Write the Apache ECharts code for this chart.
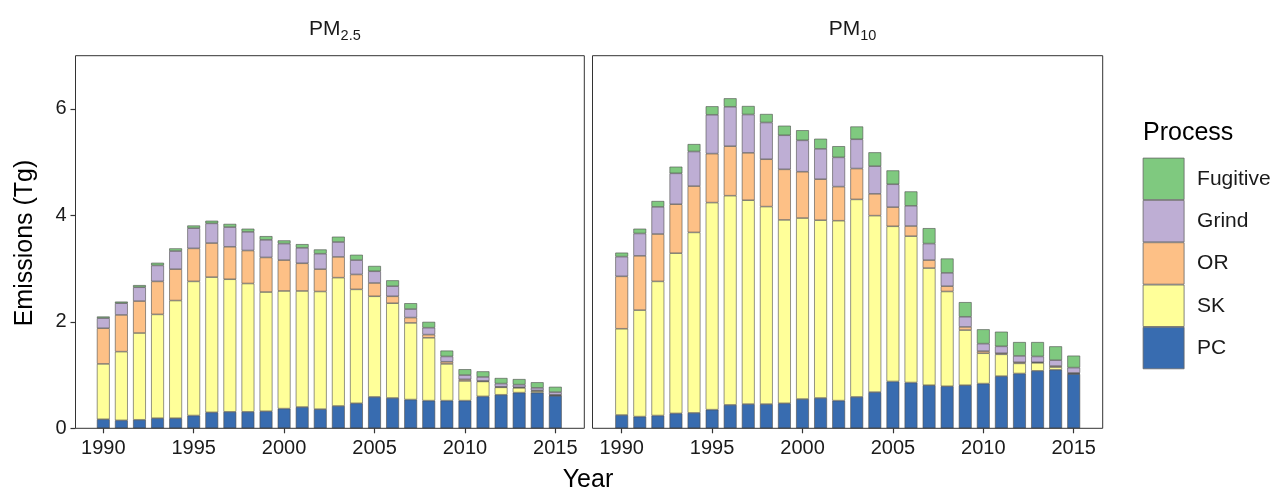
<!DOCTYPE html>
<html>
<head>
<meta charset="utf-8">
<script src="https://cdn.jsdelivr.net/npm/echarts@6/dist/echarts.min.js"></script>
<style>
html,body{margin:0;padding:0;background:#fff;}
#chart{width:1275px;height:492px;}
</style>
</head>
<body>
<div id="chart"></div>
<script>
// ---- data ----
const years = ['1990','1991','1992','1993','1994','1995','1996','1997','1998','1999','2000','2001','2002','2003','2004','2005','2006','2007','2008','2009','2010','2011','2012','2013','2014','2015'];
const processes = ['PC','SK','OR','Grind','Fugitive'];
const legendOrder = ['Fugitive','Grind','OR','SK','PC'];
const yTicks = [0, 2, 4, 6];
const panelTitles = ['2.5', '10'];

const pm25_PC       = [0.17,0.15,0.16,0.19,0.19,0.24,0.30,0.31,0.31,0.32,0.37,0.40,0.36,0.42,0.47,0.59,0.57,0.54,0.52,0.52,0.52,0.60,0.63,0.67,0.67,0.61];
const pm25_SK       = [1.04,1.29,1.63,1.95,2.21,2.52,2.54,2.49,2.41,2.24,2.21,2.18,2.21,2.41,2.14,1.89,1.78,1.44,1.18,0.69,0.37,0.28,0.14,0.09,0.03,0.01];
const pm25_OR       = [0.67,0.69,0.60,0.62,0.59,0.62,0.64,0.61,0.62,0.65,0.58,0.52,0.42,0.39,0.28,0.25,0.13,0.10,0.06,0.04,0.03,0.01,0.01,0.01,0.01,0.01];
const pm25_Grind    = [0.19,0.22,0.26,0.30,0.34,0.38,0.37,0.37,0.35,0.33,0.31,0.29,0.29,0.28,0.27,0.22,0.19,0.16,0.13,0.10,0.08,0.075,0.06,0.05,0.05,0.05];
const pm25_Fugitive = [0.03,0.03,0.04,0.05,0.05,0.05,0.05,0.06,0.06,0.07,0.06,0.07,0.08,0.10,0.10,0.10,0.11,0.11,0.11,0.11,0.11,0.105,0.105,0.105,0.105,0.10];

const pm10_PC       = [0.25,0.22,0.24,0.28,0.29,0.35,0.44,0.455,0.455,0.47,0.55,0.57,0.52,0.59,0.68,0.88,0.86,0.81,0.79,0.81,0.84,0.98,1.03,1.08,1.10,1.02];
const pm10_SK       = [1.62,2.00,2.52,3.01,3.39,3.89,3.93,3.83,3.71,3.445,3.40,3.34,3.38,3.71,3.315,2.915,2.75,2.20,1.78,1.035,0.57,0.41,0.19,0.15,0.05,0.01];
const pm10_OR       = [0.985,1.02,0.89,0.92,0.87,0.92,0.93,0.89,0.89,0.95,0.87,0.77,0.64,0.58,0.41,0.36,0.19,0.15,0.10,0.06,0.04,0.02,0.02,0.01,0.02,0.01];
const pm10_Grind    = [0.37,0.42,0.51,0.58,0.65,0.73,0.74,0.72,0.69,0.64,0.59,0.57,0.55,0.55,0.52,0.43,0.38,0.31,0.25,0.19,0.14,0.13,0.12,0.11,0.11,0.10];
const pm10_Fugitive = [0.075,0.09,0.11,0.125,0.14,0.16,0.16,0.16,0.16,0.18,0.19,0.19,0.21,0.24,0.26,0.26,0.27,0.29,0.27,0.275,0.27,0.275,0.26,0.27,0.26,0.225];

// ---- styles ----
const colors = {PC:'#386CB0', SK:'#FFFF99', OR:'#FDC086', Grind:'#BEAED4', Fugitive:'#7FC97F'};
const FONT = '"Liberation Sans", Arial, Helvetica, sans-serif';
const panels = [
  {data:{PC:pm25_PC, SK:pm25_SK, OR:pm25_OR, Grind:pm25_Grind, Fugitive:pm25_Fugitive}, box:[75.5, 584.3], gridLeft:94.26},
  {data:{PC:pm10_PC, SK:pm10_SK, OR:pm10_OR, Grind:pm10_Grind, Fugitive:pm10_Fugitive}, box:[592.5, 1102.7], gridLeft:612.66}
];
const TOP = 55.7, BOTTOM = 428.3, GRID_W = 470.1;

const grids = [], xAxes = [], yAxes = [], series = [], titles = [], graphics = [];
panels.forEach((p, i) => {
  grids.push({left:p.gridLeft, top:TOP, width:GRID_W, height:BOTTOM-TOP, containLabel:false});
  xAxes.push({
    type:'category', gridIndex:i, data:years, boundaryGap:true,
    axisLine:{show:false},
    axisTick:{show:true, interval:4, alignWithLabel:true, length:5, lineStyle:{color:'#333', width:1.2}},
    axisLabel:{interval:4, margin:10, fontSize:20, color:'#1a1a1a', fontFamily:FONT},
    splitLine:{show:false}
  });
  yAxes.push({
    type:'value', gridIndex:i, min:0, max:7, interval:2, offset:p.gridLeft - p.box[0],
    axisLine:{show:false},
    axisTick:{show:i===0, length:5, customValues:yTicks, lineStyle:{color:'#333', width:1.2}},
    axisLabel:{show:i===0, customValues:yTicks, margin:9, fontSize:20, color:'#1a1a1a', fontFamily:FONT},
    splitLine:{show:false}
  });
  processes.forEach(name => {
    series.push({
      name:name, type:'bar', xAxisIndex:i, yAxisIndex:i, stack:'s'+i,
      barWidth:12.8, data:p.data[name],
      itemStyle:{color:colors[name], borderColor:'#4d4d4d', borderWidth:0.6},
      emphasis:{disabled:true}, animation:false
    });
  });
  titles.push({
    text:'{a|PM}{b|' + panelTitles[i] + '}',
    left:(p.box[0]+p.box[1])/2, top:10, textAlign:'center',
    textStyle:{fontWeight:'normal', rich:{
      a:{fontSize:21, fontFamily:FONT, fontWeight:'normal', color:'#1a1a1a', lineHeight:28, verticalAlign:'middle'},
      b:{fontSize:14.5, fontFamily:FONT, fontWeight:'normal', color:'#1a1a1a', lineHeight:14, verticalAlign:'bottom'}
    }}
  });
  graphics.push({
    type:'rect', z:100, silent:true,
    shape:{x:p.box[0], y:TOP, width:p.box[1]-p.box[0], height:BOTTOM-TOP},
    style:{fill:'none', stroke:'#333', lineWidth:1}
  });
});

graphics.push({type:'text', silent:true, style:{text:'Year', x:588, y:480, align:'center', verticalAlign:'middle', fontSize:25, fontFamily:FONT, fill:'#000'}});
graphics.push({type:'text', silent:true, rotation:Math.PI/2, x:25, y:243, style:{text:'Emissions (Tg)', x:0, y:0, align:'center', verticalAlign:'middle', fontSize:25, fontFamily:FONT, fill:'#000'}});
graphics.push({type:'text', silent:true, style:{text:'Process', x:1143, y:133, align:'left', verticalAlign:'middle', fontSize:25, fontFamily:FONT, fill:'#000'}});

const chart = echarts.init(document.getElementById('chart'), null, {renderer:'canvas'});
chart.setOption({
  backgroundColor:'#fff',
  animation:false,
  title:titles,
  grid:grids, xAxis:xAxes, yAxis:yAxes, series:series,
  legend:{
    data:legendOrder, orient:'vertical', left:1142.7, top:157.7, padding:0,
    itemWidth:41, itemHeight:41.5, itemGap:0, icon:'rect',
    selectedMode:false,
    itemStyle:{borderColor:'#666', borderWidth:0.8},
    textStyle:{fontSize:21, fontFamily:FONT, color:'#1a1a1a', padding:[0,0,0,8]}
  },
  graphic:graphics
});
</script>
</body>
</html>
